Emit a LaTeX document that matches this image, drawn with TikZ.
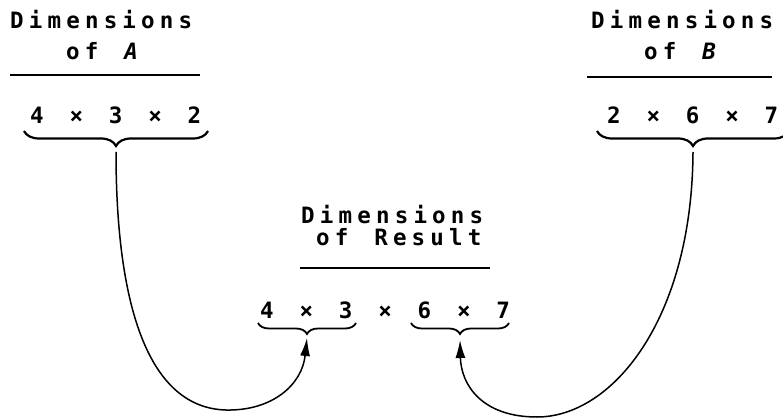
\documentclass[tikz,border=0pt]{standalone}
\usepackage{fontspec}
\usetikzlibrary{arrows.meta,decorations.pathreplacing}
\newfontfamily\typ[LetterSpace=23,WordSpace=1.38]{DejaVu Sans Mono}
\tikzset{
  txt/.style={inner sep=0pt, anchor=base west, font=\typ\bfseries\fontsize{22.5}{27}\selectfont},
  rulebar/.style={line width=2pt},
  bigbrace/.style={decorate, decoration={brace, mirror, amplitude=15pt}, line width=2.2pt},
  smallbrace/.style={decorate, decoration={brace, mirror, amplitude=11pt}, line width=1.8pt},
  link/.style={line width=1.5pt, -{Latex[length=18pt,width=10pt]}},
}
\begin{document}
\begin{tikzpicture}[x=1pt,y=-1pt]
\useasboundingbox (0,0) rectangle (783,419);
% --- A
\node[txt] (tA1) at (10,29) {Dimensions};
\node[txt] (tA2) at (66,60) {of \textit{A}};
\draw[rulebar] (10,75) -- (200,75);
\node[txt] (dA) at (30,124) {4 × 3 × 2};
\coordinate (bAl) at (24,131);
\coordinate (bAr) at (208,131);
\draw[bigbrace] (bAl) -- (bAr);
\coordinate (tipA) at (116,152);
% --- B
\node[txt] (tB1) at (591,29) {Dimensions};
\node[txt] (tB2) at (644,60) {of \textit{B}};
\draw[rulebar] (587,77) -- (772,77);
\node[txt] (dB) at (607,124) {2 × 6 × 7};
\coordinate (bBl) at (597,131);
\coordinate (bBr) at (789,131);
\draw[bigbrace] (bBl) -- (bBr);
\coordinate (tipB) at (693,152);
% --- Result
\node[txt] (tR1) at (301,224) {Dimensions};
\node[txt] (tR2) at (316,246) {of Result};
\draw[rulebar] (300,268) -- (490,268);
\node[txt] (dR) at (260,318) {4 × 3 × 6 × 7};
\coordinate (r1l) at (258,323);
\coordinate (r1r) at (356,323);
\coordinate (r2l) at (411,323);
\coordinate (r2r) at (509,323);
\draw[smallbrace] (r1l) -- (r1r);
\draw[smallbrace] (r2l) -- (r2r);
\coordinate (inR1) at (307,338);
\coordinate (inR2) at (460,340);
% --- connectors
\coordinate (lowA) at (226,410);
\coordinate (lowB) at (537,417);
\draw[link] (tipA) .. controls (116,310) and (150,408) .. (lowA)
            .. controls (272,411) and (302,385) .. (inR1);
\draw[link] (tipB) .. controls (692,320) and (612,417) .. (lowB)
            .. controls (482,417) and (461,385) .. (inR2);
\end{tikzpicture}
\end{document}
